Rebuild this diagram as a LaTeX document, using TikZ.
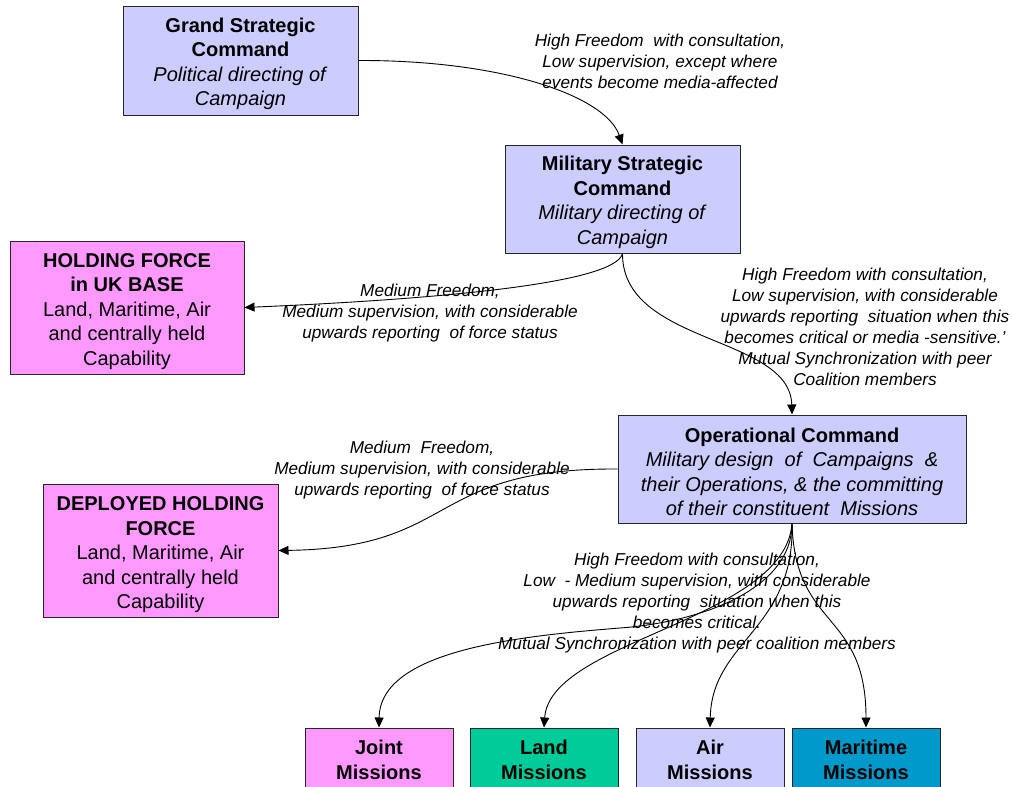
\documentclass[tikz,border=0pt]{standalone}
\usepackage{fontspec}
\setmainfont{Liberation Sans}
\usetikzlibrary{arrows.meta}
\definecolor{lav}{HTML}{CCCCFF}
\definecolor{pinkbox}{HTML}{FF99FF}
\definecolor{greenbox}{HTML}{00CC99}
\definecolor{bluebox}{HTML}{0099CC}
\newcommand\mystrut{\rule{0pt}{21.6pt}}
\newcommand\mysmallstrut{\rule{0pt}{16.6pt}}
\begin{document}
\begin{tikzpicture}[x=1pt,y=-1pt,
  box/.style={draw=black!85, line width=1pt, align=center, inner sep=0pt,
    font=\fontsize{20}{24.5}\selectfont},
  lbl/.style={align=center, inner sep=0pt, font=\fontsize{17.2}{21}\selectfont\itshape},
  conn/.style={draw, line width=0.9pt, -{Triangle[length=10pt,width=9pt]}}]
\useasboundingbox (0,0) rectangle (1012,787);
\clip (0,0) rectangle (1012,787);

% boxes
\node[box, fill=lav, minimum width=235pt, minimum height=109pt] (grand) at (240.5,60.5)
  {\mystrut\textbf{Grand Strategic}\\\textbf{Command}\\\textit{Political directing of}\\\textit{Campaign}};
\node[box, fill=lav, minimum width=235pt, minimum height=108pt] (milstrat) at (622.5,199)
  {\mystrut\textbf{Military Strategic}\\\textbf{Command}\\\textit{Military directing of}\\\textit{Campaign}};
\node[box, fill=pinkbox, minimum width=234pt, minimum height=133pt] (holduk) at (127,307.5)
  {\mystrut\textbf{HOLDING FORCE}\\\textbf{in UK BASE}\\Land, Maritime, Air\\and centrally held\\Capability};
\node[box, fill=lav, minimum width=348pt, minimum height=108pt] (op) at (792,469)
  {\rule{0pt}{20pt}\textbf{Operational Command}\\\textit{Military design~ of~ Campaigns~ \&}\\\textit{their Operations, \& the committing}\\\textit{of their constituent~ Missions}};
\node[box, fill=pinkbox, minimum width=235pt, minimum height=133pt] (deployed) at (160.5,550.5)
  {\rule{0pt}{22.6pt}\textbf{DEPLOYED HOLDING}\\\textbf{FORCE}\\Land, Maritime, Air\\and centrally held\\Capability};
\node[box, fill=pinkbox, minimum width=148pt, minimum height=62pt] (joint) at (379,759)
  {\mysmallstrut\textbf{Joint}\\\textbf{Missions}};
\node[box, fill=greenbox, minimum width=148pt, minimum height=62pt] (land) at (544,759)
  {\mysmallstrut\textbf{Land}\\\textbf{Missions}};
\node[box, fill=lav, minimum width=148pt, minimum height=62pt] (air) at (710,759)
  {\mysmallstrut\textbf{Air}\\\textbf{Missions}};
\node[box, fill=bluebox, minimum width=148pt, minimum height=62pt] (maritime) at (866,759)
  {\mysmallstrut\textbf{Maritime}\\\textbf{Missions}};

% labels
\node[lbl] (l1) at (660,61) {High Freedom~ with consultation,\\Low supervision, except where\\events become media-affected};
\node[lbl] (l2) at (430,313) {Medium Freedom,\\Medium supervision, with considerable\\upwards reporting~ of force status};
\node[lbl] (l3) at (865,326.5) {High Freedom with consultation,\\Low supervision, with considerable\\upwards reporting~ situation when this\\becomes critical or media -sensitive.'\\Mutual Synchronization with peer\\Coalition members};
\node[lbl] (l4) at (422,470) {Medium~ Freedom,\\Medium supervision, with considerable\\upwards reporting~ of force status};
\node[lbl] (l5) at (697,603.5) {High Freedom with consultation,\\Low~ - Medium supervision, with considerable\\upwards reporting~ situation when this\\becomes critical.\\Mutual Synchronization with peer coalition members};

% connectors
\draw[conn] (grand.east) .. controls (500,60) and (605,95) .. (milstrat.north);
\draw[conn] (milstrat.south) .. controls (615,285) and (420,300) .. (holduk.east);
\draw[conn] (milstrat.south) .. controls (622,345) and (790,335) .. (op.north);
\draw[conn] (op.west) .. controls (425,468) and (460,548) .. (deployed.east);
\draw[conn] (op.south) .. controls (792,590) and (700,622) .. (620,628)
  .. controls (520,636) and (380,650) .. (joint.north);
\draw[conn] (op.south) .. controls (785,620) and (550,640) .. (land.north);
\draw[conn] (op.south) .. controls (795,630) and (712,640) .. (air.north);
\draw[conn] (op.south) .. controls (795,630) and (866,610) .. (maritime.north);
\end{tikzpicture}
\end{document}
